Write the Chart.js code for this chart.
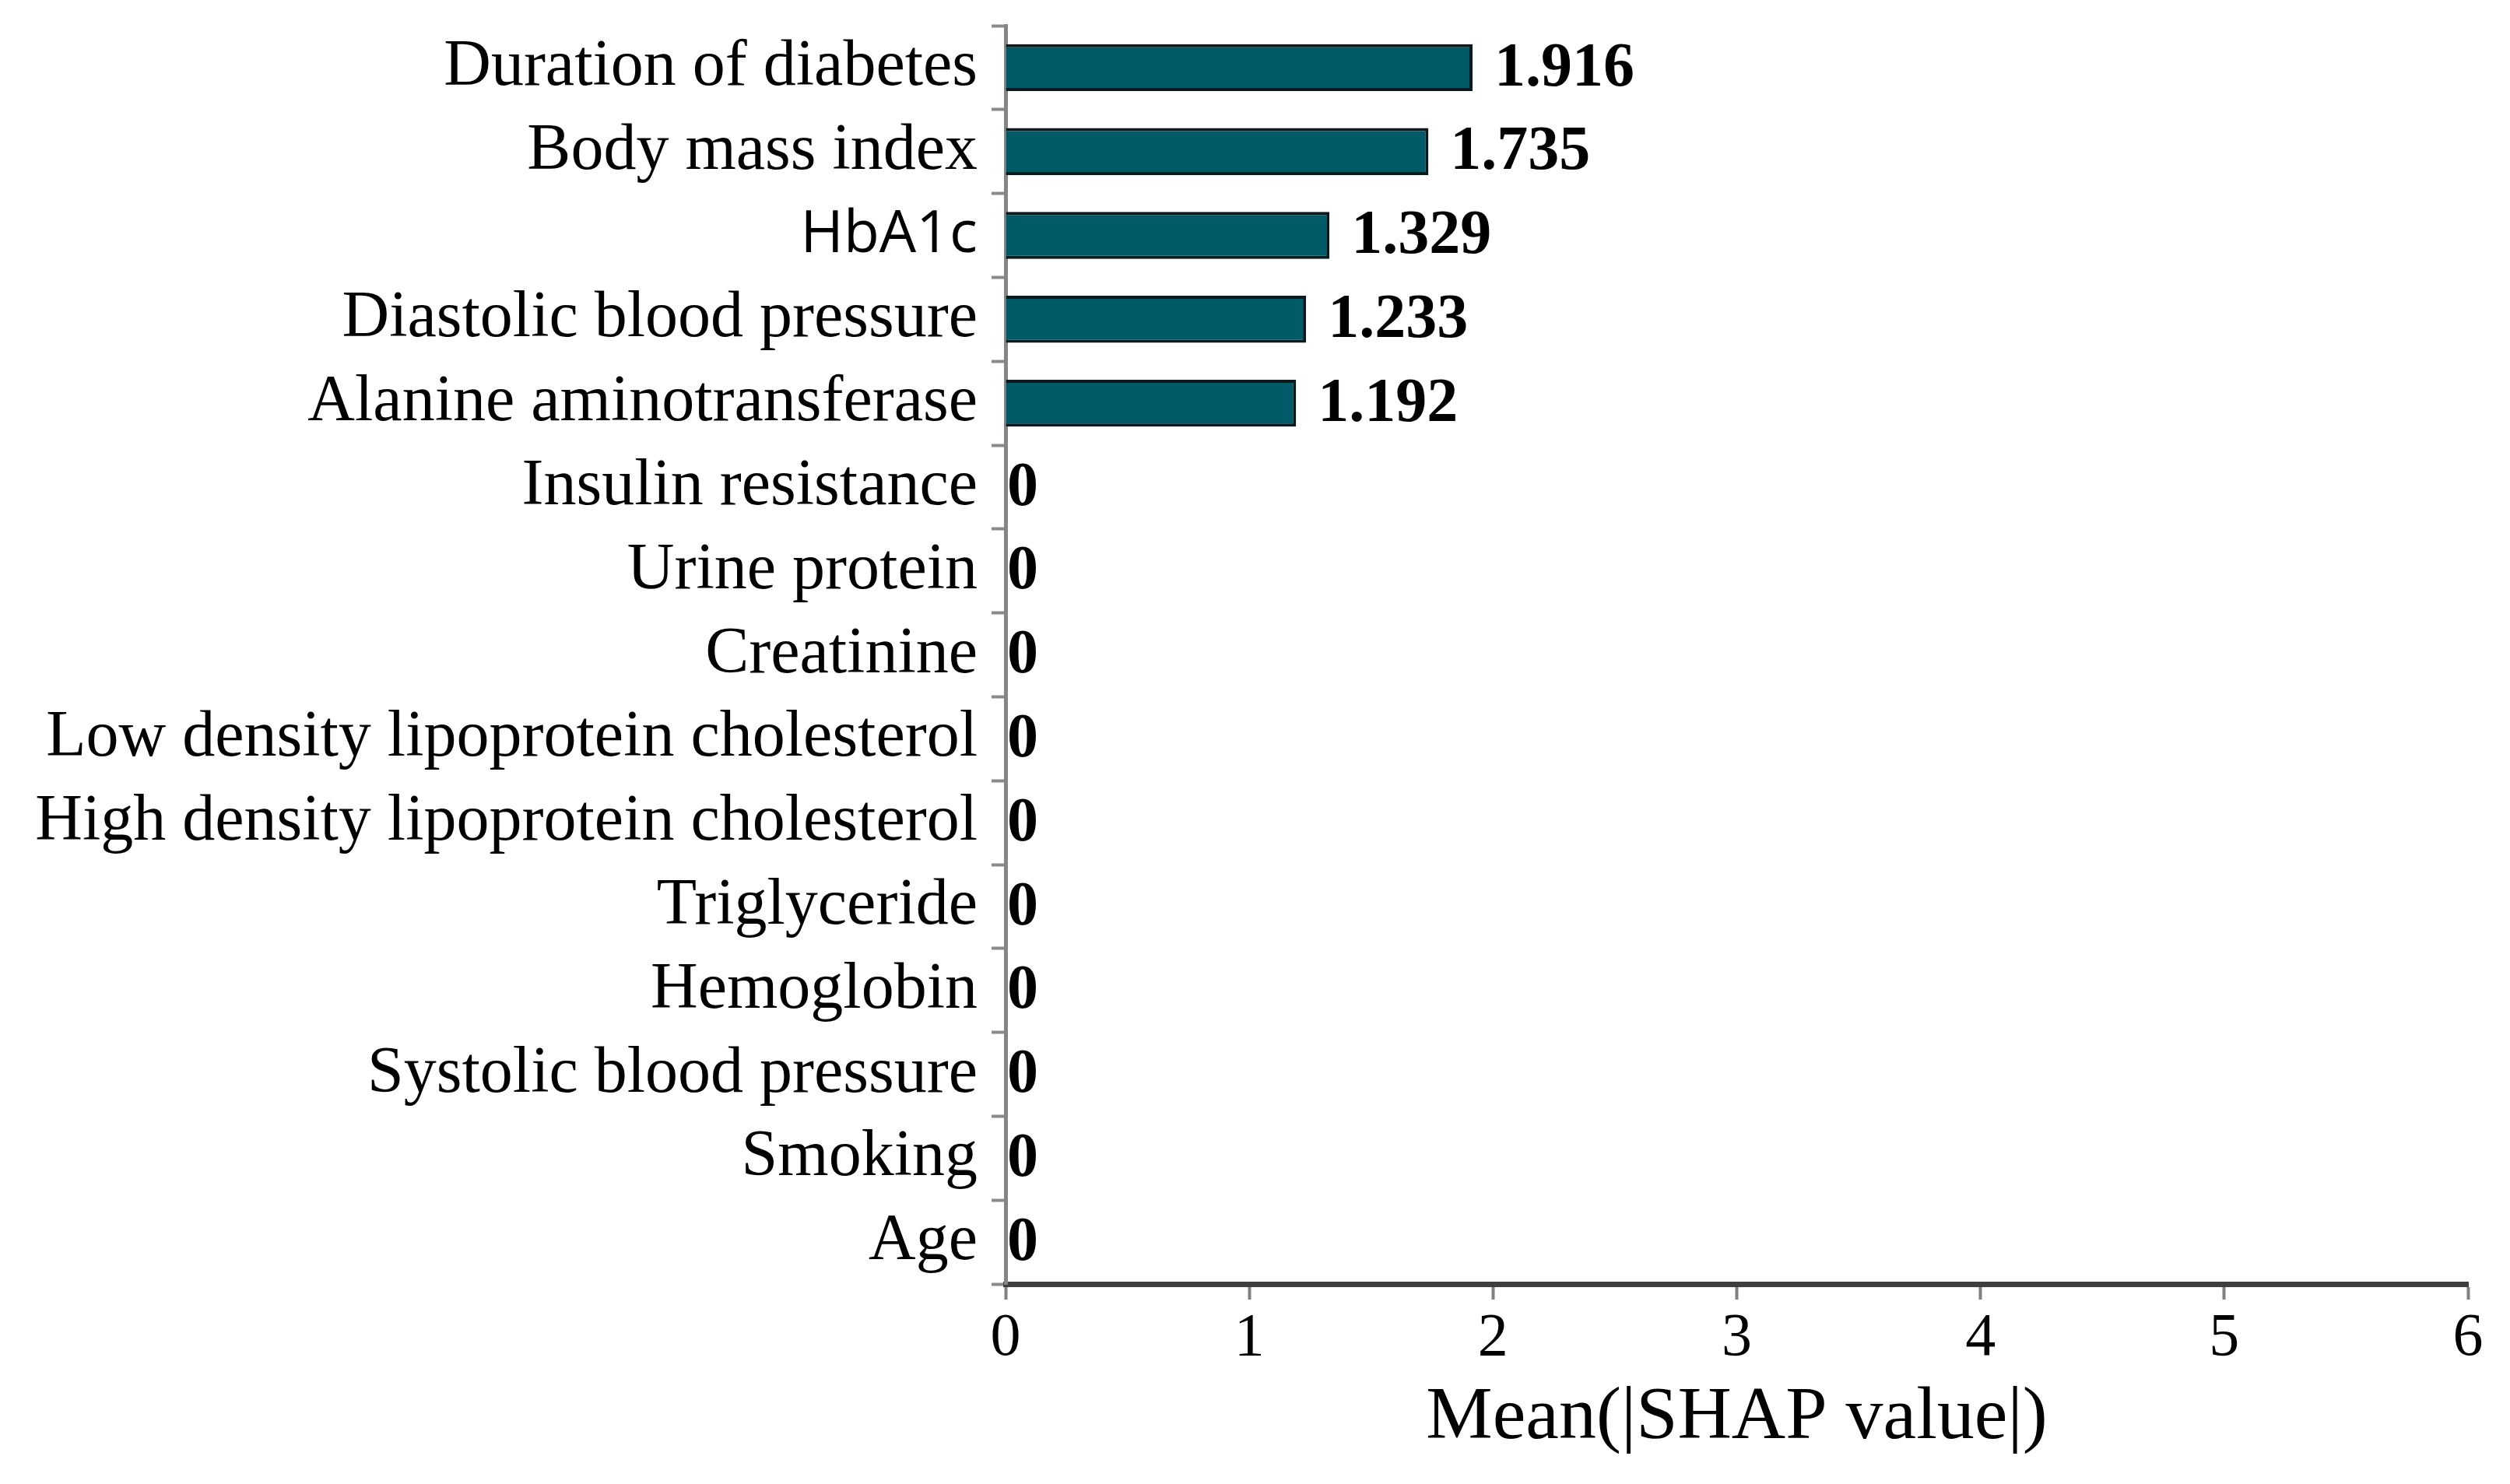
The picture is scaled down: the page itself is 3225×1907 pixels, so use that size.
<!DOCTYPE html>
<html>
<head>
<meta charset="utf-8">
<script src="https://cdn.jsdelivr.net/npm/chart.js@4.4.1/dist/chart.umd.min.js"></script>
<style>
  html, body { margin: 0; padding: 0; background: #fff; }
  #wrap { width: 3225px; height: 1907px; }
</style>
</head>
<body>
<div id="wrap"><canvas id="shapChart" width="3225" height="1907"></canvas></div>
<script>
// feature names, top to bottom
const features = [
  "Duration of diabetes",
  "Body mass index",
  "HbA1c",
  "Diastolic blood pressure",
  "Alanine aminotransferase",
  "Insulin resistance",
  "Urine protein",
  "Creatinine",
  "Low density lipoprotein cholesterol",
  "High density lipoprotein cholesterol",
  "Triglyceride",
  "Hemoglobin",
  "Systolic blood pressure",
  "Smoking",
  "Age"
];

// mean |SHAP| per feature
const shapValues = [1.916, 1.735, 1.329, 1.233, 1.192, 0, 0, 0, 0, 0, 0, 0, 0, 0, 0];

// x axis ticks
const xTicks = [0, 1, 2, 3, 4, 5, 6];

const serif = "'Liberation Serif', 'Times New Roman', serif";

// writes the value at the end of every bar
const valueLabels = {
  id: "valueLabels",
  afterDatasetsDraw(chart) {
    const ctx = chart.ctx;
    const meta = chart.getDatasetMeta(0);
    ctx.save();
    ctx.font = "bold 80px " + serif;
    ctx.fillStyle = "#000";
    ctx.textAlign = "left";
    ctx.textBaseline = "middle";
    meta.data.forEach((bar, i) => {
      const v = shapValues[i];
      const gap = v > 0 ? 28 : 2;
      ctx.fillText(v === 0 ? "0" : v.toFixed(3), bar.x + gap, bar.y + 2);
    });
    ctx.restore();
  }
};

const ctx = document.getElementById("shapChart").getContext("2d");

new Chart(ctx, {
  type: "bar",
  data: {
    labels: features,
    datasets: [
      {
        label: "Mean(|SHAP value|)",
        data: shapValues,
        backgroundColor: "#005a67",
        borderColor: "#0d1a1d",
        borderWidth: 4,
        borderSkipped: "left",
        barPercentage: 0.56,
        categoryPercentage: 1.0
      }
    ]
  },
  options: {
    indexAxis: "y",
    responsive: false,
    animation: false,
    devicePixelRatio: 1,
    layout: { padding: { top: 33, right: 54, bottom: 0, left: 0 } },
    plugins: {
      legend: { display: false },
      tooltip: { enabled: false }
    },
    scales: {
      x: {
        min: 0,
        max: 6,
        afterBuildTicks: (scale) => {
          scale.ticks = xTicks.map((v) => ({ value: v }));
        },
        afterFit: (scale) => {
          scale.height = 257;
        },
        ticks: {
          color: "#000",
          padding: 4,
          font: { family: serif, size: 78 }
        },
        grid: {
          drawOnChartArea: false,
          drawTicks: true,
          tickLength: 20,
          tickColor: "#808080",
          tickWidth: 4
        },
        border: { display: true, color: "#3f3f3f", width: 7 },
        title: {
          display: true,
          text: "Mean(|SHAP value|)",
          color: "#000",
          font: { family: serif, size: 96, lineHeight: 1 },
          padding: { top: 0, bottom: 36 }
        }
      },
      y: {
        afterFit: (scale) => {
          scale.width = 1292;
          scale.paddingTop = 0;
          scale.paddingBottom = 0;
        },
        ticks: {
          color: "#000",
          padding: 18,
          font: (c) =>
            c.index === 2
              ? { family: "'Open Sans', sans-serif", size: 75 }
              : { family: serif, size: 84 }
        },
        grid: {
          drawOnChartArea: false,
          drawTicks: true,
          tickLength: 18,
          tickColor: "#8a8a8a",
          tickWidth: 4
        },
        border: { display: true, color: "#858585", width: 5 }
      }
    }
  },
  plugins: [valueLabels]
});
</script>
</body>
</html>
